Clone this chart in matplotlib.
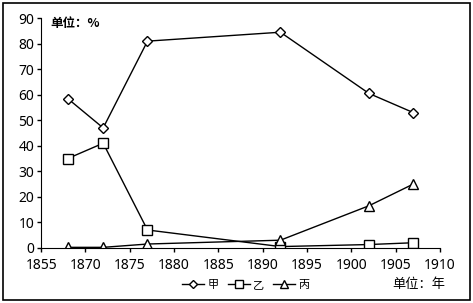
import matplotlib
matplotlib.use("Agg")
import matplotlib.pyplot as plt
from matplotlib.patches import Rectangle

plt.rcParams['font.family'] = ['Noto Sans', 'Noto Sans CJK SC', 'DejaVu Sans']

years = [1868, 1872, 1877, 1892, 1902, 1907]
jia = [58.5, 47, 81, 84.5, 60.5, 53]
yi = [35, 41, 7, 0.5, 1.3, 2]
bing = [0.2, 0.2, 1.5, 3, 16.5, 25]

xticks = [1865, 1870, 1875, 1880, 1885, 1890, 1895, 1900, 1905, 1910]
xticklabels = ['1855', '1870', '1875', '1880', '1885', '1890', '1895', '1900', '1905', '1910']

fig = plt.figure(figsize=(4.73, 3.03), dpi=100)
ax = fig.add_axes([0.087, 0.182, 0.843, 0.758])

style = dict(color='black', lw=1, markerfacecolor='white', markeredgecolor='black', markeredgewidth=1)
ax.plot(years, jia, marker='D', ms=5, label='甲', **style)
ax.plot(years, yi, marker='s', ms=6.5, label='乙', **style)
ax.plot(years, bing, marker='^', ms=7, label='丙', **style)

ax.set_xlim(1865, 1910)
ax.set_ylim(0, 90)
ax.set_xticks(xticks)
ax.set_xticklabels(xticklabels)
ax.set_yticks(range(0, 91, 10))
ax.tick_params(labelsize=10, length=3, width=1)
ax.tick_params(axis='x', pad=4)
ax.tick_params(axis='y', pad=2)
ax.spines['top'].set_visible(False)
ax.spines['right'].set_visible(False)

ax.text(1866, 88, '单位：%', fontsize=9, family=['Noto Sans CJK SC'], va='center', fontweight='bold')
fig.text(0.885, 0.06, '单位：年', fontsize=9.5, family=['Noto Sans CJK SC'], ha='center', va='center')

fig.legend(loc='center', bbox_to_anchor=(0.52, 0.06), ncol=3, frameon=False,
           prop={'family': ['Noto Sans CJK SC'], 'size': 8},
           handlelength=2, handletextpad=0.3, columnspacing=0.8, markerscale=0.8)

fig.patches.append(Rectangle((0.007, 0.01), 0.986, 0.98, transform=fig.transFigure,
                             fill=False, edgecolor='black', lw=1.2))

fig.savefig('out.png', dpi=100)
